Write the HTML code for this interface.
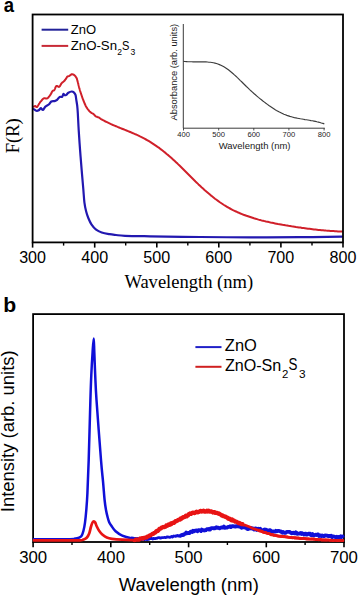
<!DOCTYPE html>
<html><head><meta charset="utf-8"><title>Figure</title>
<style>html,body{margin:0;padding:0;background:#fff;}svg{display:block;}</style>
</head><body>
<svg width="358" height="597" viewBox="0 0 358 597">
<rect width="358" height="597" fill="#fff"/>
<text transform="translate(3.86,11.60) scale(0.9270,1)" font-family='"Liberation Sans", sans-serif' font-weight="bold" font-size="20.00" fill="#000">a</text>
<path d="M33.7,106.6 L34.5,106.3 L35.4,106.1 L35.9,106.5 L36.4,107.0 L37.0,107.0 L37.3,106.7 L37.6,106.3 L38.0,105.7 L38.3,105.1 L38.7,104.5 L39.1,103.8 L39.5,103.2 L39.8,102.7 L40.2,102.2 L40.6,101.7 L41.0,101.2 L41.5,100.7 L41.9,100.2 L42.2,99.7 L42.6,99.3 L42.9,99.0 L43.6,98.4 L44.1,98.3 L44.6,98.2 L45.3,98.3 L46.0,98.6 L46.7,98.6 L47.2,98.4 L47.8,98.0 L48.3,97.5 L48.8,96.9 L49.2,96.4 L49.7,95.8 L50.1,95.2 L50.5,94.6 L50.9,94.0 L51.3,93.4 L51.6,92.7 L51.9,92.0 L52.2,91.5 L52.5,91.0 L53.0,90.7 L53.6,90.6 L54.2,90.2 L54.5,89.7 L54.8,89.1 L55.1,88.4 L55.4,87.6 L55.7,86.9 L56.0,86.4 L56.3,86.0 L56.9,85.9 L57.6,86.2 L58.3,86.7 L58.8,86.9 L59.4,86.7 L60.0,86.0 L60.3,85.5 L60.6,84.9 L61.0,84.3 L61.3,83.6 L61.7,83.1 L62.2,82.6 L62.7,82.2 L63.3,81.9 L63.8,81.4 L64.2,81.0 L64.7,80.5 L65.1,79.9 L65.5,79.4 L65.9,78.9 L66.3,78.2 L66.7,77.5 L67.1,76.9 L67.5,76.4 L68.3,76.2 L69.2,76.0 L69.6,75.7 L70.1,75.3 L70.7,74.9 L71.2,74.5 L71.7,74.3 L72.3,74.3 L73.0,74.4 L73.6,74.7 L74.2,75.1 L74.7,75.5 L75.1,75.9 L75.5,76.4 L75.9,77.0 L76.3,77.6 L76.6,78.1 L76.8,78.7 L77.0,79.2 L77.2,79.9 L77.4,80.6 L77.6,81.4 L77.7,81.9 L77.9,82.4 L78.0,83.0 L78.2,83.6 L78.3,84.2 L78.5,84.9 L78.6,85.5 L78.8,86.2 L79.0,86.8 L79.1,87.5 L79.3,88.1 L79.5,88.7 L79.7,89.3 L79.8,89.9 L80.0,90.6 L80.2,91.2 L80.4,91.8 L80.6,92.4 L80.8,93.0 L81.0,93.6 L81.2,94.2 L81.4,94.8 L81.6,95.4 L81.8,96.0 L82.0,96.6 L82.2,97.2 L82.4,97.8 L82.6,98.4 L82.8,99.0 L83.1,99.5 L83.3,100.1 L83.5,100.7 L83.7,101.3 L84.0,101.9 L84.2,102.5 L84.5,103.1 L84.7,103.7 L85.0,104.3 L85.2,104.8 L85.5,105.4 L85.7,105.9 L86.0,106.4 L86.4,107.1 L86.7,107.7 L87.1,108.2 L87.5,108.8 L87.9,109.3 L88.2,109.7 L88.6,110.2 L89.1,110.8 L89.6,111.4 L90.1,111.9 L90.6,112.3 L91.1,112.7 L91.8,113.1 L92.5,113.4 L93.2,113.8 L93.7,114.2 L94.2,114.8 L94.7,115.3 L95.2,115.9 L95.7,116.3 L96.3,116.6 L96.9,116.8 L97.4,117.0 L98.0,117.2 L98.6,117.4 L99.2,117.7 L99.7,118.1 L100.3,118.5 L100.8,118.9 L101.1,119.1 L102.5,119.9 L104.0,120.7 L105.5,121.5 L107.0,122.2 L108.5,122.9 L110.0,123.6 L111.5,124.3 L113.0,125.0 L114.5,125.6 L116.0,126.2 L117.5,126.9 L119.0,127.5 L120.5,128.1 L122.0,128.7 L123.5,129.3 L125.0,129.9 L126.5,130.5 L128.0,131.1 L129.5,131.7 L131.0,132.3 L132.5,133.0 L134.0,133.6 L135.5,134.3 L137.0,134.9 L138.5,135.6 L140.0,136.4 L141.5,137.1 L143.0,137.9 L144.5,138.7 L146.0,139.5 L147.5,140.3 L149.0,141.2 L150.5,142.1 L152.0,143.1 L153.5,144.1 L155.0,145.1 L156.5,146.1 L158.0,147.2 L159.5,148.2 L161.0,149.4 L162.5,150.5 L164.0,151.7 L165.5,152.9 L167.0,154.2 L168.5,155.4 L170.0,156.7 L171.5,158.0 L173.0,159.4 L174.5,160.8 L176.0,162.2 L177.5,163.6 L179.0,165.1 L180.5,166.5 L182.0,168.0 L183.5,169.5 L185.0,171.0 L186.5,172.5 L188.0,174.0 L189.5,175.5 L191.0,177.0 L192.5,178.5 L194.0,180.0 L195.5,181.5 L197.0,182.9 L198.5,184.4 L200.0,185.8 L201.5,187.2 L203.0,188.5 L204.5,189.9 L206.0,191.2 L207.5,192.5 L209.0,193.8 L210.5,195.1 L212.0,196.3 L213.5,197.5 L215.0,198.7 L216.5,199.8 L218.0,200.9 L219.5,202.0 L221.0,203.0 L222.5,204.0 L224.0,205.0 L225.5,205.9 L227.0,206.8 L228.5,207.7 L230.0,208.5 L231.5,209.3 L233.0,210.1 L234.5,210.8 L236.0,211.5 L237.5,212.2 L239.0,212.8 L240.5,213.5 L242.0,214.1 L243.5,214.7 L245.0,215.2 L246.5,215.8 L248.0,216.3 L249.5,216.8 L251.0,217.3 L252.5,217.8 L254.0,218.3 L255.5,218.7 L257.0,219.1 L258.5,219.6 L260.0,220.0 L261.5,220.4 L263.0,220.7 L264.5,221.1 L266.0,221.5 L267.5,221.8 L269.0,222.1 L270.5,222.5 L272.0,222.8 L273.5,223.1 L275.0,223.4 L276.5,223.7 L278.0,224.0 L279.5,224.2 L281.0,224.5 L282.5,224.8 L284.0,225.0 L285.5,225.3 L287.0,225.5 L288.5,225.8 L290.0,226.0 L291.5,226.3 L293.0,226.5 L294.5,226.7 L296.0,227.0 L297.5,227.2 L299.0,227.4 L300.5,227.6 L302.0,227.9 L303.5,228.1 L305.0,228.3 L306.5,228.5 L308.0,228.7 L309.5,228.8 L311.0,229.0 L312.5,229.2 L314.0,229.4 L315.5,229.5 L317.0,229.7 L318.5,229.9 L320.0,230.0 L321.5,230.2 L323.0,230.3 L324.5,230.4 L326.0,230.6 L327.5,230.7 L329.0,230.8 L330.5,230.9 L332.0,231.0 L333.5,231.1 L335.0,231.2 L336.5,231.3 L338.0,231.4 L339.5,231.5 L341.0,231.6 L342.0,231.6" fill="none" stroke="#d0202a" stroke-width="2" stroke-linejoin="round" stroke-linecap="round"/>
<path d="M33.70,109.10 C34.12,109.37 35.37,110.50 36.20,110.70 C37.03,110.90 37.93,110.72 38.70,110.30 C39.47,109.88 40.10,108.27 40.80,108.20 C41.50,108.13 42.13,110.17 42.90,109.90 C43.67,109.63 44.42,107.50 45.40,106.60 C46.38,105.70 47.82,105.35 48.80,104.50 C49.78,103.65 50.33,102.07 51.30,101.50 C52.27,100.93 53.63,101.37 54.60,101.10 C55.57,100.83 56.25,100.60 57.10,99.90 C57.95,99.20 58.87,97.40 59.70,96.90 C60.53,96.40 61.48,97.38 62.10,96.90 C62.72,96.42 62.98,94.28 63.40,94.00 C63.82,93.72 64.12,95.07 64.60,95.20 C65.08,95.33 65.67,95.22 66.30,94.80 C66.93,94.38 67.50,93.25 68.40,92.70 C69.30,92.15 70.80,91.57 71.70,91.50 C72.60,91.43 73.17,91.75 73.80,92.30 C74.43,92.85 75.08,93.53 75.50,94.80 C75.92,96.07 76.02,98.08 76.30,99.90 C76.58,101.72 76.95,103.52 77.20,105.70 C77.45,107.88 77.55,108.93 77.80,113.00 C78.05,117.07 78.32,123.88 78.70,130.10 C79.08,136.32 79.60,143.58 80.10,150.30 C80.60,157.02 81.17,163.95 81.70,170.40 C82.23,176.85 82.85,183.68 83.30,189.00 C83.75,194.32 83.93,198.58 84.40,202.30 C84.87,206.02 85.45,208.68 86.10,211.30 C86.75,213.92 87.38,215.77 88.30,218.00 C89.22,220.23 90.30,222.75 91.60,224.70 C92.90,226.65 94.42,228.40 96.10,229.70 C97.78,231.00 99.47,231.75 101.70,232.50 C103.93,233.25 107.12,233.78 109.50,234.20 C111.88,234.62 113.42,234.73 116.00,235.00 C118.58,235.27 119.33,235.58 125.00,235.80 C130.67,236.02 137.50,236.10 150.00,236.30 C162.50,236.50 183.33,236.82 200.00,237.00 C216.67,237.18 233.33,237.37 250.00,237.40 C266.67,237.43 284.67,237.33 300.00,237.20 C315.33,237.07 335.00,236.70 342.00,236.60" fill="none" stroke="#2218b0" stroke-width="2.2" stroke-linejoin="round" stroke-linecap="round"/>
<rect x="32.6" y="14.5" width="310.4" height="227.9" fill="none" stroke="#000" stroke-width="1.8"/>
<line x1="32.6" y1="242.4" x2="32.6" y2="247.6" stroke="#000" stroke-width="1.6"/>
<text transform="translate(19.17,262.60) scale(1.0200,1)" font-family='"Liberation Sans", sans-serif' font-size="15.80" fill="#000">300</text>
<line x1="94.7" y1="242.4" x2="94.7" y2="247.6" stroke="#000" stroke-width="1.6"/>
<text transform="translate(81.37,262.60) scale(1.0200,1)" font-family='"Liberation Sans", sans-serif' font-size="15.80" fill="#000">400</text>
<line x1="156.8" y1="242.4" x2="156.8" y2="247.6" stroke="#000" stroke-width="1.6"/>
<text transform="translate(143.31,262.60) scale(1.0200,1)" font-family='"Liberation Sans", sans-serif' font-size="15.80" fill="#000">500</text>
<line x1="218.8" y1="242.4" x2="218.8" y2="247.6" stroke="#000" stroke-width="1.6"/>
<text transform="translate(205.30,262.60) scale(1.0200,1)" font-family='"Liberation Sans", sans-serif' font-size="15.80" fill="#000">600</text>
<line x1="280.9" y1="242.4" x2="280.9" y2="247.6" stroke="#000" stroke-width="1.6"/>
<text transform="translate(267.38,262.60) scale(1.0200,1)" font-family='"Liberation Sans", sans-serif' font-size="15.80" fill="#000">700</text>
<line x1="343.0" y1="242.4" x2="343.0" y2="247.6" stroke="#000" stroke-width="1.6"/>
<text transform="translate(329.53,262.60) scale(1.0200,1)" font-family='"Liberation Sans", sans-serif' font-size="15.80" fill="#000">800</text>
<line x1="63.6" y1="242.4" x2="63.6" y2="245.6" stroke="#000" stroke-width="1.4"/>
<line x1="125.7" y1="242.4" x2="125.7" y2="245.6" stroke="#000" stroke-width="1.4"/>
<line x1="187.8" y1="242.4" x2="187.8" y2="245.6" stroke="#000" stroke-width="1.4"/>
<line x1="249.9" y1="242.4" x2="249.9" y2="245.6" stroke="#000" stroke-width="1.4"/>
<line x1="312.0" y1="242.4" x2="312.0" y2="245.6" stroke="#000" stroke-width="1.4"/>
<text transform="translate(124.38,287.80) scale(0.9974,1)" font-family='"Liberation Serif", serif' font-size="18.60" fill="#000">Wavelength (nm)</text>
<text transform="translate(19.20,153.34) rotate(-90) scale(1.0115,1)" font-family='"Liberation Serif", serif' font-size="18.40" fill="#000">F(R)</text>
<line x1="41.6" y1="29.7" x2="68.2" y2="29.7" stroke="#222299" stroke-width="2"/>
<line x1="41.6" y1="45.9" x2="68.2" y2="45.9" stroke="#c82a36" stroke-width="2"/>
<text transform="translate(70.68,33.50) scale(0.9871,1)" font-family='"Liberation Sans", sans-serif' font-size="13.20" fill="#000">ZnO</text>
<text transform="translate(70.68,49.90) scale(1.0037,1)" font-family='"Liberation Sans", sans-serif' font-size="13.20" fill="#000">ZnO-Sn</text>
<text transform="translate(117.17,55.40) scale(1.0062,1)" font-family='"Liberation Sans", sans-serif' font-size="8.50" fill="#000">2</text>
<text transform="translate(122.10,49.60) scale(0.8418,1)" font-family='"Liberation Sans", sans-serif' font-size="13.20" fill="#000">S</text>
<text transform="translate(130.47,55.40) scale(1.0176,1)" font-family='"Liberation Sans", sans-serif' font-size="8.50" fill="#000">3</text>
<path d="M183.3,24 L183.3,128.2 L324.8,128.2" fill="none" stroke="#3a3a3a" stroke-width="1"/>
<line x1="183.5" y1="128" x2="183.5" y2="130.5" stroke="#3a3a3a" stroke-width="0.9"/>
<text transform="translate(177.22,137.00) scale(1.0000,1)" font-family='"Liberation Sans", sans-serif' font-size="7.60" fill="#1a1a1a">400</text>
<line x1="218.7" y1="128" x2="218.7" y2="130.5" stroke="#3a3a3a" stroke-width="0.9"/>
<text transform="translate(212.31,137.00) scale(1.0000,1)" font-family='"Liberation Sans", sans-serif' font-size="7.60" fill="#1a1a1a">500</text>
<line x1="253.8" y1="128" x2="253.8" y2="130.5" stroke="#3a3a3a" stroke-width="0.9"/>
<text transform="translate(247.42,137.00) scale(1.0000,1)" font-family='"Liberation Sans", sans-serif' font-size="7.60" fill="#1a1a1a">600</text>
<line x1="288.9" y1="128" x2="288.9" y2="130.5" stroke="#3a3a3a" stroke-width="0.9"/>
<text transform="translate(282.57,137.00) scale(1.0000,1)" font-family='"Liberation Sans", sans-serif' font-size="7.60" fill="#1a1a1a">700</text>
<line x1="324.1" y1="128" x2="324.1" y2="130.5" stroke="#3a3a3a" stroke-width="0.9"/>
<text transform="translate(317.75,137.00) scale(1.0000,1)" font-family='"Liberation Sans", sans-serif' font-size="7.60" fill="#1a1a1a">800</text>
<text transform="translate(218.76,148.60) scale(1.0304,1)" font-family='"Liberation Sans", sans-serif' font-size="9.20" fill="#1a1a1a">Wavelength (nm)</text>
<text transform="translate(176.80,120.42) rotate(-90) scale(0.9691,1)" font-family='"Liberation Sans", sans-serif' font-size="9.60" fill="#1a1a1a">Absorbance (arb. units)</text>
<path d="M183.4,61.4 L184.9,61.5 L186.4,61.6 L187.9,61.7 L189.4,61.7 L190.9,61.7 L192.4,61.8 L193.9,61.8 L195.4,61.8 L196.9,61.8 L198.4,61.8 L199.9,61.8 L201.4,61.8 L202.9,61.8 L204.4,61.9 L205.9,61.9 L207.4,62.0 L208.9,62.2 L210.4,62.3 L211.9,62.5 L213.4,62.8 L214.9,63.1 L216.4,63.5 L217.9,64.0 L219.4,64.6 L220.9,65.2 L222.4,66.0 L223.9,66.8 L225.4,67.7 L226.9,68.7 L228.4,69.8 L229.9,71.0 L231.4,72.2 L232.9,73.5 L234.4,74.9 L235.9,76.2 L237.4,77.7 L238.9,79.1 L240.4,80.6 L241.9,82.0 L243.4,83.5 L244.9,85.0 L246.4,86.5 L247.9,87.9 L249.4,89.4 L250.9,90.8 L252.4,92.1 L253.9,93.5 L255.4,94.8 L256.9,96.1 L258.4,97.4 L259.9,98.6 L261.4,99.8 L262.9,101.0 L264.4,102.1 L265.9,103.3 L267.4,104.4 L268.9,105.5 L270.4,106.5 L271.9,107.5 L273.4,108.5 L274.9,109.5 L276.4,110.4 L277.9,111.2 L279.4,112.1 L280.9,112.8 L282.4,113.5 L283.9,114.2 L285.4,114.8 L286.9,115.4 L288.4,115.9 L289.9,116.4 L291.4,116.8 L292.9,117.2 L294.4,117.6 L295.9,117.9 L297.4,118.2 L298.9,118.5 L300.4,118.8 L301.9,119.0 L303.4,119.3 L304.9,119.6 L306.4,119.8 L307.9,120.0 L309.4,120.3 L310.9,120.6 L312.4,120.8 L313.9,121.1 L315.4,121.4 L316.9,121.8 L318.4,122.1 L319.9,122.5 L321.4,123.0 L322.9,123.4 L324.3,123.9" fill="none" stroke="#3c3c3c" stroke-width="1.15" stroke-linejoin="round"/>
<text transform="translate(3.30,311.80) scale(1.0722,1)" font-family='"Liberation Sans", sans-serif' font-weight="bold" font-size="19.80" fill="#000">b</text>
<rect x="33.1" y="314.1" width="310.9" height="227.9" fill="none" stroke="#000" stroke-width="1.8"/>
<path d="M34.00,539.30 C40.00,539.28 63.17,539.32 70.00,539.20 C76.83,539.08 73.63,538.80 75.00,538.60 C76.37,538.40 77.15,538.38 78.20,538.00 C79.25,537.62 80.43,537.47 81.30,536.30 C82.17,535.13 82.78,533.28 83.40,531.00 C84.02,528.72 84.52,526.10 85.00,522.60 C85.48,519.10 85.90,514.85 86.30,510.00 C86.70,505.15 87.00,501.83 87.40,493.50 C87.80,485.17 88.20,475.58 88.70,460.00 C89.20,444.42 89.97,414.17 90.40,400.00 C90.83,385.83 90.93,383.00 91.30,375.00 C91.67,367.00 92.20,358.08 92.60,352.00 C93.00,345.92 93.42,338.50 93.70,338.50 C93.98,338.50 94.05,345.92 94.30,352.00 C94.55,358.08 94.83,367.00 95.20,375.00 C95.57,383.00 95.53,385.83 96.50,400.00 C97.47,414.17 99.90,446.28 101.00,460.00 C102.10,473.72 102.50,475.63 103.10,482.30 C103.70,488.97 104.12,495.38 104.60,500.00 C105.08,504.62 105.48,507.08 106.00,510.00 C106.52,512.92 107.15,515.40 107.70,517.50 C108.25,519.60 108.72,521.27 109.30,522.60 C109.88,523.93 110.15,524.05 111.20,525.50 C112.25,526.95 113.75,529.62 115.60,531.30 C117.45,532.98 119.68,534.45 122.30,535.60 C124.92,536.75 128.32,537.60 131.30,538.20 C134.28,538.80 138.72,539.03 140.20,539.20" fill="none" stroke="#1010d8" stroke-width="2.5" stroke-linejoin="round" stroke-linecap="round"/>
<path d="M131.3,538.0 L131.8,537.9 L132.3,538.5 L133.0,538.0 L133.8,538.6 L134.6,538.5 L135.5,538.3 L136.4,538.9 L137.4,538.5 L138.3,539.0 L139.3,538.7 L140.2,538.8 L140.9,539.1 L141.6,539.6 L142.4,538.9 L143.1,538.9 L143.8,539.3 L144.6,539.6 L145.4,539.2 L146.2,539.0 L147.0,539.6 L147.8,538.6 L148.7,539.3 L149.5,538.7 L150.5,538.5 L151.4,538.4 L152.1,538.6 L152.9,539.0 L153.6,538.3 L154.4,538.6 L155.3,538.6 L156.1,538.3 L156.9,538.3 L157.8,537.8 L158.7,537.7 L159.5,537.7 L160.4,538.1 L161.3,537.8 L162.1,537.6 L163.0,537.7 L163.8,537.5 L164.6,537.3 L165.4,537.7 L166.2,537.5 L167.0,536.9 L167.9,537.2 L168.8,537.0 L169.8,537.3 L170.7,537.0 L171.7,536.4 L172.6,537.0 L173.6,536.0 L174.5,536.2 L175.4,536.4 L176.2,535.7 L177.0,536.0 L177.7,535.4 L178.4,536.0 L179.0,536.0 L179.5,535.7 L180.0,536.0" fill="none" stroke="#1010d8" stroke-width="2.8" stroke-linejoin="round"/>
<path d="M180.0,535.3 L180.4,535.8 L180.9,535.4 L181.5,535.2 L182.2,534.7 L182.9,535.0 L183.7,534.9 L184.5,533.9 L185.3,533.9 L186.2,532.6 L187.1,533.3 L188.1,532.9 L189.0,533.2 L190.0,532.7 L190.7,531.7 L191.5,531.7 L192.3,532.0 L193.1,530.8 L193.9,531.4 L194.8,530.8 L195.6,530.5 L196.5,530.3 L197.4,531.3 L198.3,530.2 L199.2,530.2 L200.1,530.3 L201.0,531.0 L201.8,529.6 L202.7,530.1 L203.5,530.1 L204.3,530.5 L205.0,530.3 L205.9,530.2 L206.8,529.2 L207.7,529.2 L208.5,529.0 L209.3,529.7 L210.1,529.7 L210.8,528.3 L211.6,528.2 L212.4,528.2 L213.1,528.1 L213.9,528.4 L214.6,528.4 L215.4,527.8 L216.2,527.3 L217.1,527.9 L217.9,527.7 L218.8,527.9 L219.6,528.4 L220.5,527.9 L221.3,527.5 L222.2,527.6 L223.0,527.6 L223.9,526.5 L224.7,527.8 L225.6,527.6 L226.4,527.6 L227.3,527.5 L228.2,526.8 L229.1,526.8 L230.0,526.3 L230.9,527.1 L231.9,526.2 L232.8,526.2 L233.7,526.4 L234.6,526.4 L235.5,526.7 L236.3,526.2 L237.1,526.2 L237.8,526.4 L238.5,526.4 L239.7,526.8 L240.7,526.4 L241.6,527.8 L242.3,527.5 L243.1,526.9 L244.0,527.2 L244.8,527.5 L245.5,527.6 L246.2,527.4 L247.0,528.7 L247.8,529.1 L248.8,528.4 L250.0,528.6 L250.7,528.0 L251.4,528.1 L252.2,528.6 L253.0,528.5 L253.9,529.5 L254.7,528.5 L255.7,528.3 L256.6,529.9 L257.5,529.3 L258.4,528.7 L259.3,529.4 L260.2,528.7 L261.0,529.6 L261.8,530.4 L262.7,530.3 L263.6,530.1 L264.4,529.5 L265.3,529.8 L266.1,529.6 L267.0,530.6 L267.8,530.4 L268.6,530.9 L269.4,530.2 L270.2,530.2 L271.0,531.2 L271.8,531.6 L272.6,531.5 L273.5,531.5 L274.2,531.6 L275.0,531.6 L275.8,530.8 L276.5,531.4 L277.3,531.2 L278.2,530.8 L279.0,530.9 L280.0,531.4 L281.0,531.4 L281.7,532.2 L282.4,532.7 L283.2,531.9 L283.9,532.7 L284.7,532.9 L285.5,532.9 L286.4,532.0 L287.2,531.8 L288.1,531.9 L288.9,531.9 L289.8,532.0 L290.7,532.7 L291.5,533.3 L292.4,533.2 L293.3,532.7 L294.1,533.1 L295.0,533.4 L295.8,532.3 L296.6,533.3 L297.4,533.8 L298.3,533.6 L299.1,533.7 L299.9,533.3 L300.8,532.9 L301.6,534.0 L302.4,533.3 L303.3,534.1 L304.1,534.5 L305.0,533.6 L305.8,533.7 L306.6,534.7 L307.5,534.4 L308.3,533.6 L309.2,533.6 L310.0,533.7 L310.8,535.0 L311.7,535.0 L312.5,534.0 L313.3,535.1 L314.1,535.5 L314.9,535.0 L315.7,534.6 L316.5,535.0 L317.3,534.5 L318.1,534.4 L318.9,536.0 L319.8,535.5 L320.6,535.4 L321.5,536.2 L322.3,535.4 L323.2,536.2 L324.1,536.2 L325.0,535.3 L325.8,535.5 L326.6,535.6 L327.4,535.6 L328.3,536.2 L329.2,535.8 L330.2,536.1 L331.1,535.7 L332.1,537.1 L333.0,536.3 L334.0,536.5 L334.9,536.8 L335.9,537.4 L336.8,536.7 L337.7,537.5 L338.5,536.9 L339.3,537.1 L340.1,537.1 L340.8,536.3 L341.4,537.1 L342.0,536.7 L342.6,536.5 L343.0,537.8" fill="none" stroke="#1010d8" stroke-width="3.8" stroke-linejoin="round"/>
<path d="M34.00,540.40 C38.33,540.40 52.33,540.42 60.00,540.40 C67.67,540.38 76.10,540.43 80.00,540.30 C83.90,540.17 82.28,540.02 83.40,539.60 C84.52,539.18 85.73,538.82 86.70,537.80 C87.67,536.78 88.50,535.30 89.20,533.50 C89.90,531.70 90.35,528.83 90.90,527.00 C91.45,525.17 92.02,523.45 92.50,522.50 C92.98,521.55 93.35,521.30 93.80,521.30 C94.25,521.30 94.70,521.63 95.20,522.50 C95.70,523.37 96.12,525.08 96.80,526.50 C97.48,527.92 98.33,529.63 99.30,531.00 C100.27,532.37 101.35,533.62 102.60,534.70 C103.85,535.78 105.23,536.82 106.80,537.50 C108.37,538.18 109.42,538.43 112.00,538.80 C114.58,539.17 118.72,539.50 122.30,539.70 C125.88,539.90 130.52,540.12 133.50,540.00 C136.48,539.88 137.58,539.70 140.20,539.00 C142.82,538.30 145.90,537.47 149.20,535.80 C152.50,534.13 156.53,530.93 160.00,529.00 C163.47,527.07 166.67,525.80 170.00,524.20 C173.33,522.60 176.67,521.10 180.00,519.40 C183.33,517.70 187.22,515.22 190.00,514.00 C192.78,512.78 194.75,512.55 196.70,512.10 C198.65,511.65 200.15,511.45 201.70,511.30 C203.25,511.15 204.52,511.18 206.00,511.20 C207.48,511.22 208.90,511.08 210.60,511.40 C212.30,511.72 214.33,512.45 216.20,513.10 C218.07,513.75 219.95,514.47 221.80,515.30 C223.65,516.13 225.45,517.27 227.30,518.10 C229.15,518.93 231.03,519.55 232.90,520.30 C234.77,521.05 236.63,521.85 238.50,522.60 C240.37,523.35 241.90,523.92 244.10,524.80 C246.30,525.68 249.32,526.97 251.70,527.90 C254.08,528.83 255.88,529.53 258.40,530.40 C260.92,531.27 264.37,532.35 266.80,533.10 C269.23,533.85 270.80,534.37 273.00,534.90 C275.20,535.43 276.33,535.82 280.00,536.30 C283.67,536.78 290.00,537.35 295.00,537.80 C300.00,538.25 305.00,538.63 310.00,539.00 C315.00,539.37 319.50,539.73 325.00,540.00 C330.50,540.27 340.00,540.50 343.00,540.60" fill="none" stroke="#e81414" stroke-width="2.7" stroke-linejoin="round" stroke-linecap="round"/>
<path d="M133.5,539.6 L134.0,539.9 L134.7,540.1 L135.4,539.9 L136.3,539.5 L137.2,539.6 L138.2,539.5 L139.2,539.6 L140.2,538.5 L140.9,538.9 L141.7,538.3 L142.4,538.1 L143.2,538.5 L144.0,537.9 L144.9,537.7 L145.7,537.6 L146.6,537.5 L147.4,536.6 L148.3,536.4 L149.2,535.8 L149.9,535.5 L150.6,535.3 L151.3,534.6 L152.0,534.2 L152.7,533.7 L153.4,533.8 L154.2,533.0 L154.9,532.7 L155.7,532.3 L156.4,531.0 L157.1,530.8 L157.9,530.8 L158.6,530.2 L159.3,529.0 L160.0,528.5 L160.8,528.5 L161.6,527.6 L162.4,527.4 L163.1,526.9 L163.9,527.2 L164.7,527.0 L165.4,526.8 L166.2,525.5 L166.9,525.9 L167.7,525.5 L168.5,524.5 L169.2,525.0 L170.0,524.8 L170.8,523.5 L171.5,524.0 L172.3,523.0 L173.1,522.7 L173.8,523.0 L174.6,522.4 L175.4,521.2 L176.2,521.2 L176.9,520.9 L177.7,520.4 L178.5,519.8 L179.2,519.6 L180.0,519.7 L180.7,518.4 L181.5,518.7 L182.2,518.1 L183.0,517.2 L183.7,517.2 L184.5,517.1 L185.2,516.5 L185.9,515.6 L186.7,516.3 L187.4,515.7 L188.1,515.5 L188.7,514.1 L189.4,514.0 L190.0,513.4 L191.0,513.9 L191.9,513.0 L192.8,512.5 L193.7,512.7 L194.5,513.1 L195.2,512.8 L196.0,512.0 L196.7,511.7 L197.6,512.4 L198.5,511.8 L199.3,511.8 L200.1,511.0 L200.9,510.8 L201.7,511.5 L202.6,511.1 L203.5,510.7 L204.3,511.7 L205.1,511.4 L206.0,511.6 L206.9,510.7 L207.8,511.6 L208.7,510.7 L209.6,511.7 L210.6,511.3 L211.3,511.4 L212.1,511.8 L212.9,512.5 L213.7,512.0 L214.6,512.1 L215.4,512.9 L216.2,512.8 L217.0,512.9 L217.8,513.3 L218.6,513.4 L219.4,513.9 L220.2,514.4 L221.0,514.7 L221.8,515.6 L222.6,515.4 L223.4,516.1 L224.2,516.1 L224.9,516.7 L225.7,516.7 L226.5,517.4 L227.3,517.5 L228.1,518.7 L228.9,518.8 L229.7,518.7 L230.5,519.4 L231.3,520.2 L232.1,519.5 L232.9,520.7 L233.7,520.5 L234.5,520.9 L235.3,521.7 L236.1,521.5 L236.9,522.0 L237.7,522.5 L238.5,523.2 L239.3,522.8 L240.3,523.7 L241.2,523.9 L242.1,524.2 L242.9,524.2 L243.6,524.4 L244.1,524.3" fill="none" stroke="#e81414" stroke-width="4.2" stroke-linejoin="round"/>
<path d="M258.4,530.1 L258.9,530.2 L259.4,530.9 L260.1,530.8 L260.9,531.0 L261.8,531.2 L262.7,532.0 L263.6,532.3 L264.4,532.5 L265.3,532.5 L266.1,532.7 L266.8,533.0 L267.7,533.3 L268.5,533.4 L269.3,533.8 L270.0,533.9 L270.7,534.6 L271.4,534.8 L272.2,534.7 L273.0,534.7 L273.8,535.4 L274.5,535.1 L275.2,535.3 L275.9,535.3 L276.8,535.7 L277.7,535.9 L278.7,536.1 L280.0,536.1 L280.6,536.4 L281.3,536.1 L282.0,536.4 L282.8,536.3 L283.6,536.6 L284.4,536.5 L285.3,536.6 L286.1,536.8 L287.0,536.9 L287.9,537.2 L288.8,537.3 L289.7,537.5 L290.6,537.5 L291.5,537.6 L292.4,537.8 L293.3,537.6 L294.2,537.6 L295.0,538.1 L295.8,537.6 L296.7,538.1 L297.5,538.1 L298.3,537.8 L299.2,538.4 L300.0,538.5 L300.8,538.4 L301.7,538.5 L302.5,538.6 L303.3,538.2 L304.2,538.6 L305.0,538.6 L305.8,538.9 L306.7,539.0 L307.5,539.0 L308.3,538.9 L309.2,539.2 L310.0,539.1 L310.8,539.2 L311.7,538.9 L312.5,538.9 L313.3,539.0 L314.1,539.2 L314.9,539.1 L315.7,539.7 L316.5,539.5 L317.3,539.6 L318.1,539.7 L318.9,539.8 L319.8,539.7 L320.6,539.4 L321.5,540.0 L322.3,540.0 L323.2,539.9 L324.1,540.0 L325.0,540.1 L325.8,539.7 L326.6,540.2 L327.4,539.9 L328.3,539.8 L329.2,540.0 L330.2,540.4 L331.1,540.0 L332.1,540.4 L333.0,540.6 L334.0,540.3 L334.9,540.3 L335.9,540.4 L336.8,540.5 L337.7,540.6 L338.5,540.5 L339.3,540.6 L340.1,540.2 L340.8,540.3 L341.4,540.4 L342.0,540.7 L342.6,540.4 L343.0,540.6" fill="none" stroke="#e81414" stroke-width="2.8" stroke-linejoin="round"/>
<line x1="33.1" y1="542" x2="33.1" y2="547.3" stroke="#000" stroke-width="1.6"/>
<text transform="translate(19.13,562.70) scale(1.0300,1)" font-family='"Liberation Sans", sans-serif' font-size="16.30" fill="#000">300</text>
<line x1="110.8" y1="542" x2="110.8" y2="547.3" stroke="#000" stroke-width="1.6"/>
<text transform="translate(96.97,562.70) scale(1.0300,1)" font-family='"Liberation Sans", sans-serif' font-size="16.30" fill="#000">400</text>
<line x1="188.6" y1="542" x2="188.6" y2="547.3" stroke="#000" stroke-width="1.6"/>
<text transform="translate(174.55,562.70) scale(1.0300,1)" font-family='"Liberation Sans", sans-serif' font-size="16.30" fill="#000">500</text>
<line x1="266.3" y1="542" x2="266.3" y2="547.3" stroke="#000" stroke-width="1.6"/>
<text transform="translate(252.18,562.70) scale(1.0300,1)" font-family='"Liberation Sans", sans-serif' font-size="16.30" fill="#000">600</text>
<line x1="344.0" y1="542" x2="344.0" y2="547.3" stroke="#000" stroke-width="1.6"/>
<text transform="translate(329.90,562.70) scale(1.0300,1)" font-family='"Liberation Sans", sans-serif' font-size="16.30" fill="#000">700</text>
<line x1="72.0" y1="542" x2="72.0" y2="545" stroke="#000" stroke-width="1.4"/>
<line x1="149.7" y1="542" x2="149.7" y2="545" stroke="#000" stroke-width="1.4"/>
<line x1="227.4" y1="542" x2="227.4" y2="545" stroke="#000" stroke-width="1.4"/>
<line x1="305.1" y1="542" x2="305.1" y2="545" stroke="#000" stroke-width="1.4"/>
<text transform="translate(118.83,590.50) scale(1.0331,1)" font-family='"Liberation Sans", sans-serif' font-size="17.90" fill="#000">Wavelength (nm)</text>
<text transform="translate(14.40,512.20) rotate(-90) scale(1.0189,1)" font-family='"Liberation Sans", sans-serif' font-size="18.10" fill="#000">Intensity (arb. units)</text>
<line x1="195.4" y1="347.1" x2="221.5" y2="347.1" stroke="#2020c8" stroke-width="2"/>
<line x1="195.4" y1="366.8" x2="221.5" y2="366.8" stroke="#d02020" stroke-width="2"/>
<text transform="translate(224.87,350.80) scale(1.0224,1)" font-family='"Liberation Sans", sans-serif' font-size="16.10" fill="#000">ZnO</text>
<text transform="translate(224.88,370.50) scale(1.0017,1)" font-family='"Liberation Sans", sans-serif' font-size="16.10" fill="#000">ZnO-Sn</text>
<text transform="translate(281.93,377.60) scale(1.0965,1)" font-family='"Liberation Sans", sans-serif' font-size="10.40" fill="#000">2</text>
<text transform="translate(288.50,370.40) scale(0.8303,1)" font-family='"Liberation Sans", sans-serif' font-size="16.10" fill="#000">S</text>
<text transform="translate(298.95,377.60) scale(1.1360,1)" font-family='"Liberation Sans", sans-serif' font-size="10.40" fill="#000">3</text>
</svg>
</body></html>
